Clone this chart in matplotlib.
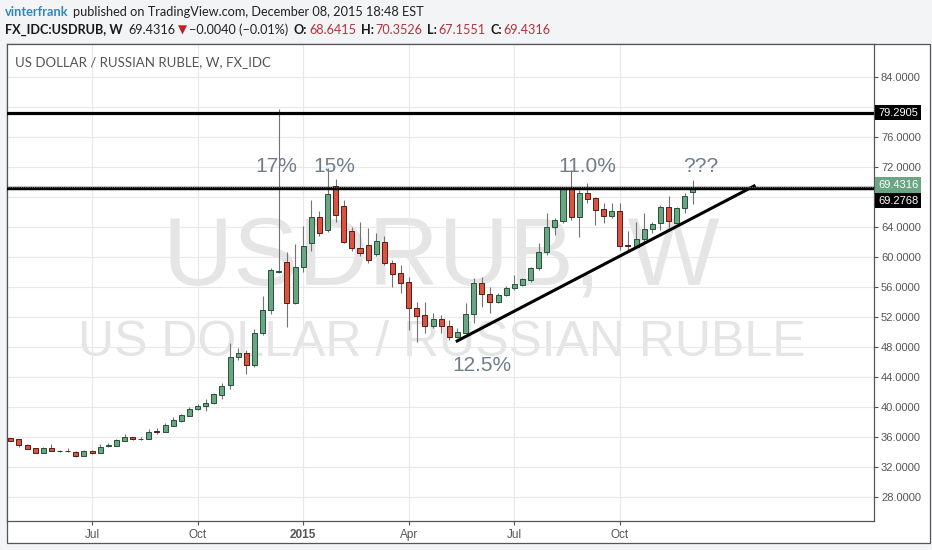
import matplotlib
matplotlib.use("Agg")
import matplotlib.pyplot as plt
import numpy as np
import pandas as pd
from matplotlib.patches import Rectangle
from matplotlib.transforms import blended_transform_factory

# ---------------- DATA (weekly USDRUB candles) ---------------- #
first_week = "2014-04-28"

opens = [35.86, 35.73, 35.02, 34.53, 33.95, 34.62, 34.22, 34.15, 34.08, 33.55,
         34.22, 33.95, 34.80, 34.88, 35.51, 36.00, 35.73, 35.82, 36.89, 36.75,
         37.55, 38.22, 38.88, 39.73, 40.13, 40.62, 41.64, 43.00, 46.75, 47.20,
         45.64, 49.87, 52.97, 58.05, 59.33, 53.87, 58.75, 61.95, 65.41, 63.70,
         69.55, 66.88, 63.47, 61.20, 61.64, 60.40, 62.08, 59.28, 57.87, 56.75,
         53.20, 52.25, 50.90, 51.73, 50.88, 49.42, 49.95, 52.40, 56.62, 55.10,
         54.08, 54.97, 55.95, 56.30, 56.97, 58.53, 60.66, 64.08, 64.84, 69.06,
         65.33, 68.53, 67.86, 66.44, 65.50, 66.22, 61.60, 61.42, 62.40, 63.73,
         64.53, 66.75, 64.62, 66.53, 68.6415]
highs = [35.90, 35.80, 35.10, 34.60, 34.70, 35.06, 34.30, 34.62, 34.15, 34.30,
         34.30, 35.06, 35.30, 35.80, 36.40, 36.10, 36.10, 37.10, 37.24, 37.86,
         38.66, 39.10, 40.08, 40.50, 41.06, 41.90, 43.30, 48.60, 47.90, 47.60,
         50.40, 54.80, 58.60, 79.80, 60.67, 61.77, 64.20, 67.70, 66.20, 71.87,
         70.50, 67.60, 64.00, 64.67, 63.90, 63.20, 62.80, 59.60, 58.98, 57.42,
         54.10, 54.10, 52.62, 52.30, 51.64, 50.53, 53.86, 57.20, 57.42, 56.08,
         55.20, 56.17, 57.64, 57.30, 58.75, 61.86, 65.86, 65.20, 69.20, 71.64,
         68.97, 69.86, 68.08, 67.20, 67.20, 67.20, 63.55, 64.75, 65.86, 64.75,
         66.97, 68.17, 66.75, 68.62, 70.3526]
lows = [35.45, 34.66, 34.40, 33.85, 33.85, 34.15, 34.05, 34.05, 33.33, 33.45,
        33.77, 33.85, 34.75, 34.80, 35.45, 35.70, 35.70, 35.80, 36.44, 36.70,
        37.50, 38.10, 38.80, 39.60, 39.55, 40.50, 41.10, 42.40, 46.30, 44.40,
        45.40, 49.60, 52.50, 57.85, 50.75, 53.80, 58.00, 60.90, 62.90, 63.40,
        64.75, 61.90, 60.90, 60.20, 59.30, 60.20, 59.00, 56.08, 55.20, 50.30,
        48.75, 49.95, 50.53, 49.86, 48.97, 49.20, 49.86, 51.30, 53.40, 52.53,
        53.90, 54.80, 55.64, 56.20, 56.75, 58.30, 60.30, 62.97, 64.60, 64.97,
        62.75, 67.20, 64.30, 64.53, 65.20, 60.97, 60.97, 61.20, 62.08, 63.20,
        63.64, 63.86, 64.50, 65.86, 67.1551]
closes = [35.55, 34.97, 34.48, 33.95, 34.62, 34.22, 34.13, 34.12, 33.50, 34.22,
          33.95, 34.75, 34.95, 35.64, 36.00, 35.73, 35.84, 36.75, 36.75, 37.64,
          38.31, 38.97, 39.77, 40.22, 40.62, 41.73, 42.88, 46.75, 47.20, 45.64,
          49.87, 52.97, 58.30, 58.20, 53.87, 58.75, 61.50, 65.41, 63.20, 68.40,
          65.64, 62.08, 61.20, 60.53, 59.64, 62.17, 59.28, 57.77, 56.61, 53.20,
          52.20, 50.90, 51.73, 50.88, 49.42, 50.00, 52.40, 56.62, 55.06, 54.08,
          54.97, 55.95, 56.44, 57.06, 58.53, 60.66, 64.08, 64.97, 69.06, 65.33,
          68.53, 67.77, 66.30, 65.50, 66.22, 61.50, 61.50, 62.40, 63.73, 64.44,
          66.75, 64.84, 66.53, 68.17, 69.4316]

# horizontal levels and trend line drawn by the author
level_top = 79.2905
level_mid = 69.2768
last_price = 69.4316
trend_x = [54.8, 91.7]
trend_y = [48.75, 69.6]

# text notes (label, bar position, price)
notes = [("17%", 32.7, 71.4), ("15%", 39.8, 71.4), ("11.0%", 71.0, 71.4),
         ("???", 85.0, 71.4), ("12.5%", 58.0, 44.8)]

price_ticks = list(range(28, 88, 4))
hidden_ticks = [68, 80]

# ---------------- COLOURS ---------------- #
up_fill, up_edge = "#6ba583", "#225437"
dn_fill, dn_edge = "#d75442", "#5b1a13"
wick_col = "#737375"
note_col = "#6f7d8b"
axis_col = "#555555"
red_txt = "#b3323c"

W, H = 932, 550
fig = plt.figure(figsize=(W / 100, H / 100), dpi=100, facecolor="#f3f4f6")

# outer white frame (chart + price/time scales)
fig.patches.append(Rectangle((7 / W, 1 - 543 / H), (930 - 7) / W, (543 - 44) / H,
                             transform=fig.transFigure, facecolor="white",
                             edgecolor=axis_col, linewidth=0.9, zorder=-1))

ax = fig.add_axes([7 / W, 1 - 521 / H, (874 - 7) / W, (521 - 44) / H])
ax.set_facecolor("white")

n = len(closes)
idx = np.arange(n)
o = np.array(opens)
c = np.array(closes)
hi = np.array(highs)
lo = np.array(lows)
up = c >= o

# wicks
ax.vlines(idx, lo, hi, color=wick_col, linewidth=0.8, zorder=3)
# bodies
bottoms = np.minimum(o, c)
heights = np.maximum(np.abs(c - o), 0.06)
ax.bar(idx[up], heights[up], bottom=bottoms[up], width=0.62, color=up_fill,
       edgecolor=up_edge, linewidth=0.7, zorder=4)
ax.bar(idx[~up], heights[~up], bottom=bottoms[~up], width=0.62, color=dn_fill,
       edgecolor=dn_edge, linewidth=0.7, zorder=4)

# levels
ax.axhline(level_top, color="black", linewidth=2.3, zorder=5)
ax.axhline(level_mid, color="black", linewidth=2.5, zorder=5)
ax.axhline(last_price, color="#777777", linewidth=0.8, linestyle=(0, (1, 1)), zorder=6)
ax.plot(trend_x, trend_y, color="black", linewidth=2.2, solid_capstyle="butt", zorder=5)

for label, xi, yv in notes:
    ax.text(xi, yv, label, ha="center", va="baseline", fontsize=15,
            color=note_col, family="Liberation Sans", zorder=7)

# watermark
ax.text(0.501, 0.495, "USDRUB, W", transform=ax.transAxes, ha="center", va="baseline",
        fontsize=70, color="#e5e5e5", family="Liberation Sans", zorder=0)
ax.text(0.501, 0.346, "US DOLLAR / RUSSIAN RUBLE", transform=ax.transAxes, ha="center",
        va="baseline", fontsize=36, color="#e5e5e5", family="Liberation Sans", zorder=0)

ax.text(8 / 867, 1 - (66.5 - 44) / 477, "US DOLLAR / RUSSIAN RUBLE, W, FX_IDC",
        transform=ax.transAxes, ha="left", va="baseline", fontsize=9.5,
        color="#555555", family="Lato", zorder=7)

# ---------------- AXES ---------------- #
ax.set_xlim(-0.47, 106.3)
ax.set_ylim(24.84, 88.44)

dates = pd.date_range(first_week, periods=n, freq="W-MON")
tick_idx, tick_lab = [], []
for i in range(1, n):
    if dates[i].month != dates[i - 1].month and dates[i].month in (1, 4, 7, 10):
        tick_idx.append(i)
        tick_lab.append(str(dates[i].year) if dates[i].month == 1 else dates[i].strftime("%b"))
ax.set_xticks(tick_idx)
ax.set_xticklabels(tick_lab)
for t in ax.get_xticklabels():
    t.set_family("Liberation Sans")
    if t.get_text().isdigit():
        t.set_fontweight("bold")
        t.set_color("#333333")

ax.yaxis.tick_right()
ax.set_yticks(price_ticks)
ax.set_yticklabels(["" if v in hidden_ticks else "%.4f" % v for v in price_ticks],
                   family="Liberation Sans")
ax.tick_params(axis="y", direction="out", length=3, width=0.8, colors=axis_col,
               labelsize=8, pad=2)
ax.tick_params(axis="x", direction="out", length=3, width=0.8, colors=axis_col,
               labelsize=8.5, pad=3)
ax.grid(True, color="#e8e8e8", linewidth=0.8, zorder=1)
ax.set_axisbelow(True)
for s in ax.spines.values():
    s.set_color(axis_col)
    s.set_linewidth(0.9)

# price labels on scale
trans = blended_transform_factory(ax.transAxes, ax.transData)
for val, fc, dy in [(level_top, "black", 0), (last_price, up_fill, 1.1), (level_mid, "black", -9.2)]:
    ax.annotate("%.4f" % val, xy=(1, val), xycoords=trans, xytext=(3, dy),
                textcoords="offset points", ha="left", va="center", fontsize=8,
                color="white", family="Liberation Sans", annotation_clip=False,
                bbox=dict(boxstyle="square,pad=0.25", fc=fc, ec="none"), zorder=8)

# ---------------- HEADER ---------------- #
renderer = fig.canvas.get_renderer()


def row(y, pieces, x=5, size=9.2):
    # lay texts one after the other, gap in pixels after each
    for s, gap, kw in pieces:
        fam = kw.pop("family", ["Lato", "DejaVu Sans"])
        sz = kw.pop("size", size)
        t = fig.text(x / W, 1 - y / H, s, ha="left", va="baseline",
                     family=fam, fontsize=sz, **kw)
        x += t.get_window_extent(renderer).width + gap


black = "#1a1a1a"
row(16, [
    ("vinterfrank", 4, dict(color="#2f88c0", fontweight="bold")),
    ("published on TradingView.com, December 08, 2015 18:48 EST", 0, dict(color="#222222")),
])
row(34, [
    ("FX_IDC:USDRUB, W", 6, dict(color=black, fontweight="bold")),
    ("69.4316", 2, dict(color="#222222")),
    ("\u25bc", 2, dict(color="#c0202a", family="DejaVu Sans", size=8.5)),
    ("\u22120.0040 (\u22120.01%)", 6, dict(color="#222222")),
    ("O:", 1.5, dict(color=black, fontweight="bold")),
    ("68.6415", 5, dict(color=red_txt)),
    ("H:", 1.5, dict(color=black, fontweight="bold")),
    ("70.3526", 5, dict(color=red_txt)),
    ("L:", 1.5, dict(color=black, fontweight="bold")),
    ("67.1551", 5, dict(color=red_txt)),
    ("C:", 1.5, dict(color=black, fontweight="bold")),
    ("69.4316", 0, dict(color=red_txt)),
], size=9.05)

fig.savefig("out.png", dpi=100, facecolor=fig.get_facecolor())
